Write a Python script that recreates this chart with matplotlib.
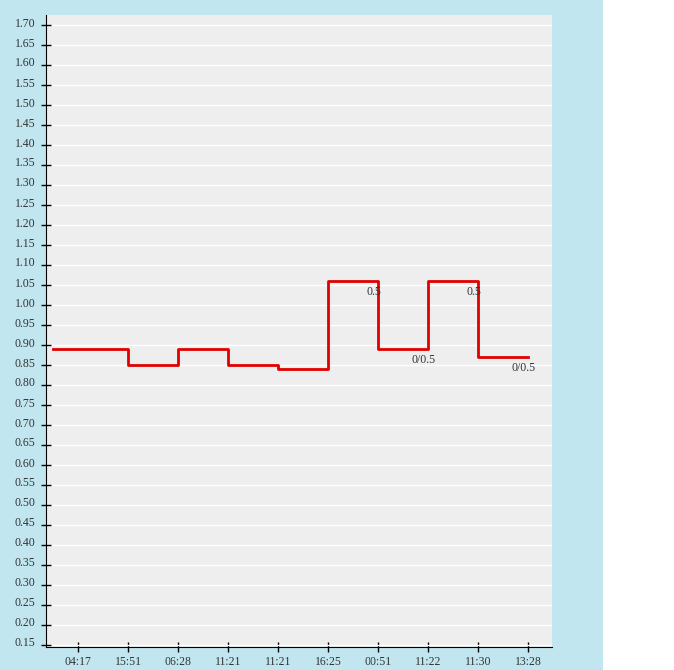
import numpy as np
import matplotlib.pyplot as plt
import matplotlib.transforms as mtransforms
from matplotlib.patches import Rectangle

times = ["04:17", "15:51", "06:28", "11:21", "11:21", "16:25", "00:51", "11:22", "11:30", "13:28"]
values = [0.89, 0.89, 0.85, 0.89, 0.85, 0.84, 1.06, 0.89, 1.06, 0.87]
point_labels = ["", "", "", "", "", "", "0.5", "0/0.5", "0.5", "0/0.5"]

W, H = 674, 670
fig = plt.figure(figsize=(W / 100, H / 100), dpi=100, facecolor="white")
fig.add_artist(Rectangle((0, 0), 603 / W, 1, transform=fig.transFigure,
                         facecolor="#c1e6f0", edgecolor="none", zorder=-5))

ax = fig.add_axes([46 / W, (H - 647) / H, (552 - 46) / W, (647 - 15) / H])
ax.set_zorder(2)
ax.set_facecolor("#eeeeee")

x = np.arange(len(times))
# line begins half a step before the first category
xs = np.concatenate([[x[0] - 0.5], x])
ys = np.concatenate([[values[0]], values])
ax.step(xs, ys, where="pre", color="#e00000", lw=2, zorder=3)

for xi, yi, lab in zip(x, values, point_labels):
    if lab:
        ax.annotate(lab, (xi, yi), xytext=(-3, -8), textcoords="offset points",
                    ha="center", va="center", fontsize=8.5,
                    family="Liberation Serif", color="#333333", zorder=4)

ax.set_xlim(-0.64, 9.48)
ax.set_ylim(0.145, 1.725)
ax.set_xticks(x)
ax.set_xticklabels(times)
yt = np.round(np.arange(0.15, 1.701, 0.05), 2)
ax.set_yticks(yt)
ax.set_yticklabels(["%.2f" % v for v in yt])
ax.grid(axis="y", color="white", lw=1)
ax.set_axisbelow(True)

for s in ["top", "right"]:
    ax.spines[s].set_visible(False)
ax.spines["left"].set_color("black")
ax.spines["bottom"].set_color("black")
ax.tick_params(direction="inout", length=7, width=1, color="black",
               labelsize=8.5, labelcolor="#333333")
ax.tick_params(axis="y", pad=4)
ax.tick_params(axis="x", pad=3)

up = mtransforms.ScaledTranslation(0, 3 / 100, fig.dpi_scale_trans)
for lab in ax.get_yticklabels():
    lab.set_family("Liberation Serif")
    lab.set_transform(lab.get_transform() + up)
for lab in ax.get_xticklabels():
    lab.set_family("Liberation Serif")

fig.savefig("out.png", dpi=100, facecolor=fig.get_facecolor())
